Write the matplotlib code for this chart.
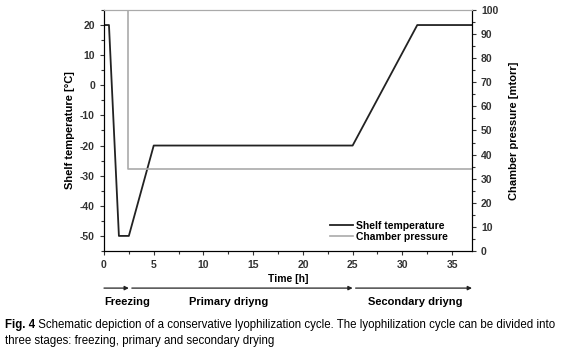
import matplotlib
matplotlib.use("Agg")
import matplotlib.pyplot as plt
from matplotlib.ticker import MultipleLocator

plt.rcParams['font.family'] = ['Liberation Sans', 'DejaVu Sans']
plt.rcParams['axes.unicode_minus'] = False

# ================= DATA =================
time_shelf = [0, 0.5, 1.5, 2.5, 5, 25, 31.5, 37]
shelf_temp = [20, 20, -50, -50, -20, -20, 20, 20]

time_press = [0, 2.4, 2.4, 37]
chamber_press = [100, 100, 34, 34]

phases = ["Freezing", "Primary driyng", "Secondary driyng"]
phase_start = [0, 2.8, 25.3]
phase_end = [2.5, 25, 37]

caption_bold = "Fig. 4"
caption_text = (" Schematic depiction of a conservative lyophilization cycle. "
                "The lyophilization cycle can be divided into")
caption_text2 = "three stages: freezing, primary and secondary drying"

# ================= FIGURE =================
fig = plt.figure(figsize=(5.67, 3.56), dpi=100)
ax = fig.add_axes([0.1834, 0.295, 0.649, 0.677])
ax2 = ax.twinx()

l1, = ax.plot(time_shelf, shelf_temp, color="#222222", lw=1.3, label="Shelf temperature")
l2, = ax2.plot(time_press, chamber_press, color="#aaaaaa", lw=1.2, label="Chamber pressure")

ax.set_xlim(0, 37)
ax.set_ylim(-55, 25)
ax2.set_ylim(0, 100)

ax.xaxis.set_major_locator(MultipleLocator(5))
ax.xaxis.set_minor_locator(MultipleLocator(2.5))
ax.yaxis.set_major_locator(MultipleLocator(10))
ax.yaxis.set_minor_locator(MultipleLocator(5))
ax2.yaxis.set_major_locator(MultipleLocator(10))
ax2.yaxis.set_minor_locator(MultipleLocator(5))

for a in (ax, ax2):
    a.tick_params(which="major", direction="out", length=3, width=0.8,
                  labelsize=7.5, colors="#333333")
    a.tick_params(which="minor", direction="out", length=2, width=0.8, colors="#333333")
    for lab in a.get_xticklabels() + a.get_yticklabels():
        lab.set_fontweight("bold")
    a.spines["top"].set_color("#aaaaaa")

ax.set_xlabel("Time [h]", fontsize=7.5, fontweight="bold", labelpad=3)
ax.set_ylabel("Shelf temperature [°C]", fontsize=8, fontweight="bold", labelpad=4)
ax2.set_ylabel("Chamber pressure [mtorr]", fontsize=8, fontweight="bold", labelpad=8)

leg = ax.legend([l1, l2], [l1.get_label(), l2.get_label()], loc="lower right",
                bbox_to_anchor=(0.96, 0.0), frameon=False, fontsize=7.5,
                handlelength=2.2, labelspacing=0.1, handletextpad=0.3)
for t in leg.get_texts():
    t.set_fontweight("bold")

# phase arrows below axis
trans = ax.get_xaxis_transform()
for name, s, e in zip(phases, phase_start, phase_end):
    ax.annotate("", xy=(e, -0.154), xytext=(s, -0.154), xycoords=trans, textcoords=trans,
                arrowprops=dict(arrowstyle="-|>", color="#222222", lw=0.9,
                                mutation_scale=6, shrinkA=0, shrinkB=0),
                annotation_clip=False)
ax.text(0, -0.21, phases[0], transform=trans, fontsize=8, fontweight="bold",
        ha="left", va="center")
ax.text(12.5, -0.21, phases[1], transform=trans, fontsize=8, fontweight="bold",
        ha="center", va="center")
ax.text(31.3, -0.21, phases[2], transform=trans, fontsize=8, fontweight="bold",
        ha="center", va="center")

# caption
cap = fig.text(0.009, 0.087, caption_bold, fontsize=8.3, fontweight="bold", va="center")
fig.canvas.draw()
bb = cap.get_window_extent()
fig.text(bb.x1 / fig.bbox.width, 0.087, caption_text, fontsize=8.3, va="center")
fig.text(0.009, 0.043, caption_text2, fontsize=8.3, va="center")

fig.savefig("out.png", dpi=100)
